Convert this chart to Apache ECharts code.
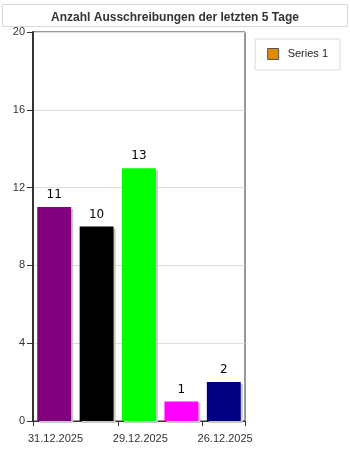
<!DOCTYPE html>
<html><head><meta charset="utf-8">
<script src="https://cdn.jsdelivr.net/npm/echarts@6/dist/echarts.min.js"></script>
<style>html,body{margin:0;padding:0;background:#fff}#c{width:350px;height:450px}</style>
</head><body><div id="c"></div>
<script>
const titleText = 'Anzahl Ausschreibungen der letzten 5 Tage';
const seriesName = 'Series 1';
const categories = ['31.12.2025','30.12.2025','29.12.2025','27.12.2025','26.12.2025'];
const values = [11, 10, 13, 1, 2];
const barColors = ['#800080','#000000','#00ff00','#ff00ff','#000080'];
const xTickLabels = ['31.12.2025','29.12.2025','26.12.2025'];
const yTicks = [0,4,8,12,16,20];

const chart = echarts.init(document.getElementById('c'), null, {renderer:'canvas'});
const font = 'Liberation Sans, Arial, sans-serif';
chart.setOption({
  animation:false,
  textStyle:{fontFamily:font},
  graphic:[{type:'rect',shape:{x:2.5,y:4.5,width:345,height:22},style:{fill:'#fff',stroke:'#d8d8d8',lineWidth:1},z:0}],
  title:{text:titleText,left:'center',top:7,textStyle:{fontSize:12,fontWeight:'bold',color:'#333',fontFamily:font}},
  legend:{
    right:10,top:39,orient:'vertical',
    padding:[9,12,10,12],
    borderColor:'#dcdcdc',borderWidth:1,
    itemWidth:11,itemHeight:11,itemGap:6,
    icon:'rect',
    textStyle:{fontSize:11,color:'#222',fontFamily:font,padding:[0,0,0,4]},
    data:[{name:seriesName,itemStyle:{color:'#e08a00',borderColor:'#555',borderWidth:1}}]
  },
  grid:{left:33,top:32,width:212,height:389,show:true,borderColor:'#333',borderWidth:1,backgroundColor:'#fff'},
  xAxis:[{
    type:'category',data:categories,
    axisLine:{show:true,lineStyle:{color:'#333',width:1}},
    axisTick:{show:false},axisLabel:{show:false},splitLine:{show:false}
  },{
    type:'value',position:'bottom',min:0,max:categories.length,interval:2,
    axisLine:{show:false},
    axisTick:{show:true,length:5,lineStyle:{color:'#333'}},
    splitLine:{show:false},
    axisLabel:{fontSize:11,color:'#333',fontFamily:font,margin:12,align:'left',padding:[0,0,0,-5],showMaxLabel:true,
      formatter:function(v){const i=Math.round(v/2);return (v%2===0 && i<xTickLabels.length)?xTickLabels[i]:'';}}
  }],
  yAxis:{
    type:'value',min:yTicks[0],max:yTicks[yTicks.length-1],interval:4,
    axisLine:{show:true,lineStyle:{color:'#333',width:2}},
    axisTick:{show:true,length:6,lineStyle:{color:'#333'}},
    axisLabel:{fontSize:11,color:'#333',fontFamily:font,margin:8},
    splitLine:{show:true,lineStyle:{color:'#dddddd',width:1}}
  },
  series:[{
    name:seriesName,type:'bar',xAxisIndex:0,barWidth:'80%',
    itemStyle:{color:'#e08a00'},
    data:values.map((v,i)=>({value:v,itemStyle:{color:barColors[i],shadowColor:'#c8c8c8',shadowOffsetX:2,shadowOffsetY:2,shadowBlur:0}})),
    label:{show:true,position:'top',distance:6,fontSize:12,fontWeight:'normal',color:'#000',fontFamily:'DejaVu Sans, sans-serif'}
  }]
});
</script></body></html>
